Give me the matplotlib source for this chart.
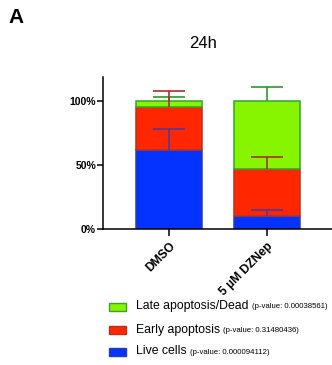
import matplotlib
matplotlib.use("Agg")
import matplotlib.pyplot as plt
from matplotlib.patches import Rectangle
import numpy as np

plt.rcParams['font.family'] = ['Liberation Sans', 'DejaVu Sans']

# Data (percent of cells)
groups = ["DMSO", "5 µM DZNep"]
live = [62.0, 10.0]
early = [33.0, 36.5]
late = [5.0, 53.5]
live_err = [16.0, 4.8]
early_err = [13.0, 9.5]
late_err = [3.0, 11.0]

series_names = ["Late apoptosis/Dead", "Early apoptosis", "Live cells"]
series_pvals = ["(p-value: 0.00038561)", "(p-value: 0.31480436)", "(p-value: 0.000094112)"]
yticks = [0, 50, 100]
ytick_labels = ["0%", "50%", "100%"]

fill = {"live": "#0433FF", "early": "#FF2600", "late": "#88F500"}
edge = {"live": "#2B3BA8", "early": "#B8301E", "late": "#2FA82A"}
errc = {"live": "#4A3A9E", "early": "#A83224", "late": "#2A9A2A"}

W, H = 332, 365
fig = plt.figure(figsize=(W / 100, H / 100), dpi=100)
ax = fig.add_axes([103 / W, 1 - 229 / H, (W - 103) / W, (229 - 77) / H])

x = np.arange(len(groups))
bw = 0.673
live_a = np.array(live)
early_a = np.array(early)
late_a = np.array(late)

ax.bar(x, live_a, bw, color=fill["live"], edgecolor=edge["live"], linewidth=1.1, zorder=2)
ax.bar(x, early_a, bw, bottom=live_a, color=fill["early"], edgecolor=edge["early"], linewidth=1.1, zorder=2)
ax.bar(x, late_a, bw, bottom=live_a + early_a, color=fill["late"], edgecolor=edge["late"], linewidth=1.1, zorder=2)

# Upward-only error bars from each segment top
cap = 0.168
tops = [(late_a + early_a + live_a, np.array(late_err), errc["late"]),
        (early_a + live_a, np.array(early_err), errc["early"]),
        (live_a, np.array(live_err), errc["live"])]
for top, err, c in tops:
    ax.vlines(x, top, top + err, color=c, linewidth=1.2, zorder=3)
    ax.hlines(top + err, x - cap, x + cap, color=c, linewidth=1.2, zorder=3)

ax.set_xlim(-0.673, 1.663)
ax.set_ylim(0, 118.75)
ax.set_yticks(yticks)
ax.set_yticklabels(ytick_labels, fontsize=7.5, fontweight="bold")
ax.set_xticks(x)
ax.set_xticklabels(groups, fontsize=8.7, fontweight="bold", rotation=45,
                   ha="right", va="top", rotation_mode="anchor")
ax.tick_params(axis="y", length=4, width=1.1, pad=1)
ax.tick_params(axis="x", length=5, width=1.1, pad=3)
for s in ["top", "right"]:
    ax.spines[s].set_visible(False)
for s in ["left", "bottom"]:
    ax.spines[s].set_linewidth(1.1)

fig.text(203 / W, 1 - 44 / H, "24h", fontsize=12, ha="center", va="center")
fig.text(8 / W, 1 - 17.5 / H, "A", fontsize=15, fontweight="bold", ha="left", va="center")

# Legend drawn in figure pixels
legend_colors = ["late", "early", "live"]
legend_y = [306.5, 329.5, 351.5]
renderer = fig.canvas.get_renderer()
for key, name, pv, yc in zip(legend_colors, series_names, series_pvals, legend_y):
    fig.patches.append(Rectangle((109 / W, 1 - (yc + 4) / H), 17 / W, 8 / H,
                                 transform=fig.transFigure, facecolor=fill[key],
                                 edgecolor=edge[key], linewidth=1.0))
    t = fig.text(136 / W, 1 - yc / H, name, fontsize=8.8, ha="left", va="center")
    bb = t.get_window_extent(renderer=renderer)
    fig.text((bb.x1 + 3) / W, 1 - (yc + 0.5) / H, pv, fontsize=5.6, ha="left", va="center")

fig.savefig("out.png", dpi=100)
